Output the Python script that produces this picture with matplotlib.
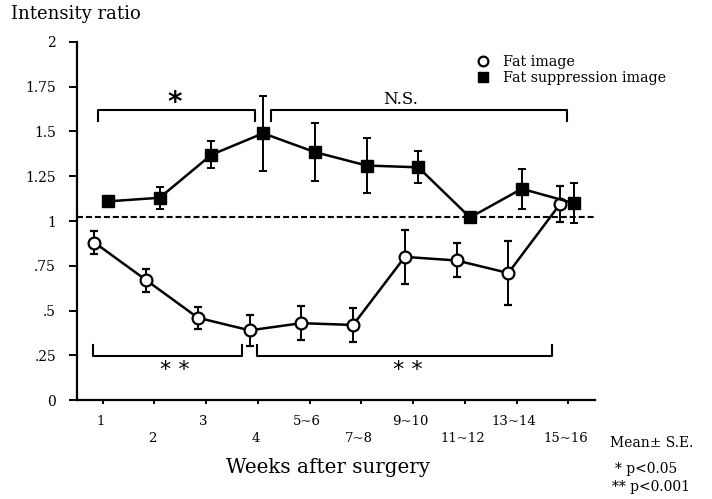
import numpy as np
import matplotlib
matplotlib.use("Agg")
import matplotlib.pyplot as plt
from matplotlib.lines import Line2D

plt.rcParams['font.family'] = ['DejaVu Serif']

# weeks after surgery (categories)
weeks = ['1', '2', '3', '4', '5~6', '7~8', '9~10', '11~12', '13~14', '15~16']

# fat image (open circles)
fat_mean = [0.88, 0.67, 0.46, 0.39, 0.43, 0.42, 0.80, 0.78, 0.71, 1.095]
fat_se = [0.065, 0.065, 0.063, 0.085, 0.095, 0.095, 0.15, 0.095, 0.18, 0.10]

# fat suppression image (filled squares)
sup_mean = [1.11, 1.13, 1.37, 1.49, 1.385, 1.31, 1.30, 1.02, 1.18, 1.10]
sup_se = [0.03, 0.06, 0.075, 0.21, 0.16, 0.155, 0.09, 0.02, 0.11, 0.11]

ref_level = 1.02
yticks = [0, 0.25, 0.5, 0.75, 1, 1.25, 1.5, 1.75, 2]
ytick_labels = ['0', '.25', '.5', '.75', '1', '1.25', '1.5', '1.75', '2']

# significance brackets: (x start, x end, y level, label, label x, label y)
top_brackets = [(-0.1, 2.94, 1.62, '*', 1.39, 1.66),
                (3.25, 8.98, 1.62, 'N.S.', 5.75, 1.676)]
bottom_brackets = [(-0.19, 2.69, 0.245, '* *', 1.39, 0.17),
                   (2.98, 8.69, 0.245, '* *', 5.9, 0.17)]

fig = plt.figure(figsize=(7.12, 4.99), dpi=100)
ax = fig.add_axes([0.108, 0.198, 0.728, 0.718])

x = np.arange(len(weeks))

ax.axhline(ref_level, color='black', linestyle=(0, (2.9, 1.4)), linewidth=1.5, zorder=1)

ax.errorbar(x - 0.16, fat_mean, yerr=fat_se, color='black', linewidth=1.8,
            marker='o', markersize=8.5, markerfacecolor='white', markeredgewidth=1.6,
            elinewidth=1.4, capsize=3, capthick=1.4, zorder=3)
ax.errorbar(x + 0.1, sup_mean, yerr=sup_se, color='black', linewidth=1.8,
            marker='s', markersize=8.5, markerfacecolor='black',
            elinewidth=1.4, capsize=3, capthick=1.4, zorder=3)

for x0, x1, y, lab, lx, ly in top_brackets:
    ax.plot([x0, x0, x1, x1], [y - 0.06, y, y, y - 0.06], color='black', linewidth=1.5)
    if lab == '*':
        ax.text(lx, ly, lab, ha='center', va='center', fontsize=20, fontweight='bold',
                family='DejaVu Sans')
    else:
        ax.text(lx, ly, lab, ha='center', va='center', fontsize=12)

for x0, x1, y, lab, lx, ly in bottom_brackets:
    ax.plot([x0, x0, x1, x1], [y + 0.065, y, y, y + 0.065], color='black', linewidth=1.5)
    ax.text(lx, ly, lab, ha='center', va='center', fontsize=16, family='DejaVu Sans')

ax.set_xlim(-0.5, 9.52)
ax.set_ylim(0, 2)
ax.set_yticks(yticks)
ax.set_yticklabels(ytick_labels, fontsize=10)
ax.set_xticks(x)
ax.set_xticklabels([])
for i, w in enumerate(weeks):
    ax.text(i - 0.05, -0.085 if i % 2 == 0 else -0.175, w, ha='center', va='top', fontsize=9.5)

for s in ['top', 'right']:
    ax.spines[s].set_visible(False)
ax.spines['left'].set_linewidth(1.6)
ax.spines['bottom'].set_linewidth(1.6)
ax.tick_params(axis='y', direction='out', length=6, width=1.4, pad=9)
ax.tick_params(axis='x', direction='out', length=3, width=1.4)

fig.text(0.016, 0.972, 'Intensity ratio', fontsize=13, va='center', ha='left')
fig.text(0.461, 0.064, 'Weeks after surgery', fontsize=14.3, va='center', ha='center')

handles = [Line2D([], [], linestyle='none', marker='o', markersize=7, markerfacecolor='white',
                  markeredgecolor='black', markeredgewidth=1.6),
           Line2D([], [], linestyle='none', marker='s', markersize=7, color='black')]
fig.legend(handles, ['Fat image', 'Fat suppression image'], loc='upper left',
           bbox_to_anchor=(0.658, 0.905), frameon=False, fontsize=10.3,
           handletextpad=0.9, labelspacing=0.2, handlelength=1.0, borderpad=0)

fig.text(0.915, 0.112, 'Mean\u00b1 S.E.', fontsize=10, ha='center', va='center')
fig.text(0.907, 0.060, '* p<0.05', fontsize=10, ha='center', va='center')
fig.text(0.915, 0.024, '** p<0.001', fontsize=10, ha='center', va='center')

fig.savefig('out.png', dpi=100)
